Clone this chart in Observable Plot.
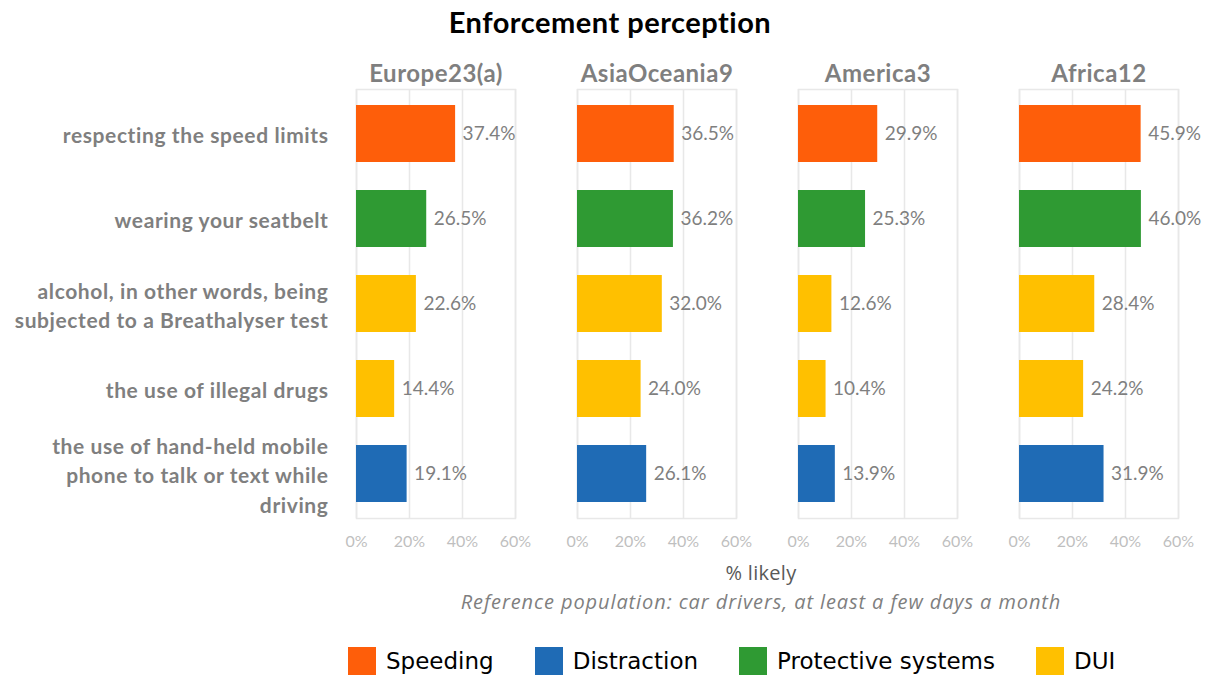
<!DOCTYPE html>
<html>
<head>
<meta charset="utf-8">
<script src="https://cdn.jsdelivr.net/npm/d3@7"></script>
<script src="https://cdn.jsdelivr.net/npm/@observablehq/plot@0.6"></script>
<style>
  body { margin: 0; background: #fff; font-family: Lato, "Open Sans", sans-serif; }
  #wrap { position: relative; width: 1209px; height: 678px; overflow: hidden; }
  #title { position: absolute; top: 4px; left: 0; width: 1220px; text-align: center;
           font-size: 29px; font-weight: bold; color: #000; line-height: 36px; letter-spacing: 0.5px; }
  #chart { position: absolute; top: 44px; left: 0; }
  #xlabel { position: absolute; top: 561px; left: 261px; width: 1000px; text-align: center;
            font-family: "Open Sans", sans-serif; font-size: 20px; color: #595959; line-height: 24px;
            letter-spacing: 0.3px; }
  #note { position: absolute; top: 590px; left: 261px; width: 1000px; text-align: center;
          font-family: "Open Sans", sans-serif; font-size: 20px; font-style: italic; color: #7f7f7f;
          line-height: 24px; letter-spacing: 0.9px; }
  #legend { position: absolute; top: 647px; left: 348px; display: flex; align-items: center;
            font-family: "DejaVu Sans", sans-serif; font-size: 23px; color: #000; }
  .item { display: flex; align-items: center; margin-right: 41px; }
  .swatch { width: 28px; height: 28px; margin-right: 10px; }
  #chart g[aria-label="y-axis tick label"] text { letter-spacing: 0.6px; }
  #chart g[aria-label="fx-axis tick label"] text { letter-spacing: 0.5px; }
</style>
</head>
<body>
<div id="wrap">
  <div id="title">Enforcement perception</div>
  <div id="chart"></div>
  <div id="xlabel">% likely</div>
  <div id="note">Reference population: car drivers, at least a few days a month</div>
  <div id="legend"></div>
</div>
<script>
// Regions (facets) and the enforcement behaviours asked about
const regions = ["Europe23(a)", "AsiaOceania9", "America3", "Africa12"];
const behaviours = [
  "respecting the speed limits",
  "wearing your seatbelt",
  "alcohol, in other words, being subjected to a Breathalyser test",
  "the use of illegal drugs",
  "the use of hand-held mobile phone to talk or text while driving"
];
const behaviourLines = [
  "respecting the speed limits",
  "wearing your seatbelt",
  "alcohol, in other words, being\nsubjected to a Breathalyser test",
  "the use of illegal drugs",
  "the use of hand-held mobile\nphone to talk or text while\ndriving"
];
const behaviourGroups = ["Speeding", "Protective systems", "DUI", "DUI", "Distraction"];

// % likely to be checked, per region, in behaviour order
const europe23 = [37.4, 26.5, 22.6, 14.4, 19.1];
const asiaOceania9 = [36.5, 36.2, 32.0, 24.0, 26.1];
const america3 = [29.9, 25.3, 12.6, 10.4, 13.9];
const africa12 = [45.9, 46.0, 28.4, 24.2, 31.9];

const groups = ["Speeding", "Distraction", "Protective systems", "DUI"];
const groupColors = ["#FE5E0A", "#1F6BB5", "#2F9A33", "#FFC000"];
const xTicks = [0, 20, 40, 60];

const seriesByRegion = [europe23, asiaOceania9, america3, africa12];
const rows = regions.flatMap((region, r) =>
  behaviours.map((behaviour, i) => ({
    region,
    behaviour,
    group: behaviourGroups[i],
    value: seriesByRegion[r][i]
  }))
);

const gridColor = "#e8e8e8";

const chart = Plot.plot({
  width: 1209,
  height: 516,
  marginLeft: 355,
  marginRight: 30,
  marginTop: 45,
  marginBottom: 42,
  style: { fontFamily: "Lato, 'Open Sans', sans-serif", background: "transparent" },
  fx: { domain: regions, paddingInner: 0.28, paddingOuter: 0, axis: null },
  x: { domain: [0, 60], axis: null },
  y: { domain: behaviours, paddingInner: 0.335, paddingOuter: 0.1675, axis: null },
  color: { domain: groups, range: groupColors },
  marks: [
    Plot.gridX(xTicks, { stroke: gridColor, strokeOpacity: 1, strokeWidth: 1.5 }),
    Plot.frame({ stroke: gridColor, strokeWidth: 1.5 }),
    Plot.barX(rows, { fx: "region", y: "behaviour", x: "value", fill: "group" }),
    Plot.text(rows, {
      fx: "region", y: "behaviour", x: "value",
      text: d => d.value.toFixed(1) + "%",
      textAnchor: "start", dx: 7, fill: "#7f7f7f", fontSize: 19
    }),
    Plot.axisX(xTicks, {
      tickSize: 0, tickPadding: 17, tickFormat: d => d + "%",
      color: "#bfbfbf", fontSize: 16, label: null
    }),
    Plot.axisY({
      tickSize: 0, tickPadding: 28,
      tickFormat: d => behaviourLines[behaviours.indexOf(d)],
      color: "#7f7f7f", fontSize: 21, fontWeight: "bold", lineHeight: 1.4, label: null
    }),
    Plot.axisFx({
      anchor: "top", tickSize: 0, tickPadding: 8,
      color: "#7f7f7f", fontSize: 24, fontWeight: "bold", label: null
    })
  ]
});
document.getElementById("chart").appendChild(chart);

// Legend
const legend = document.getElementById("legend");
groups.forEach((g, i) => {
  const item = document.createElement("div");
  item.className = "item";
  const sw = document.createElement("div");
  sw.className = "swatch";
  sw.style.background = groupColors[i];
  const label = document.createElement("span");
  label.textContent = g;
  item.appendChild(sw);
  item.appendChild(label);
  legend.appendChild(item);
});
</script>
</body>
</html>
